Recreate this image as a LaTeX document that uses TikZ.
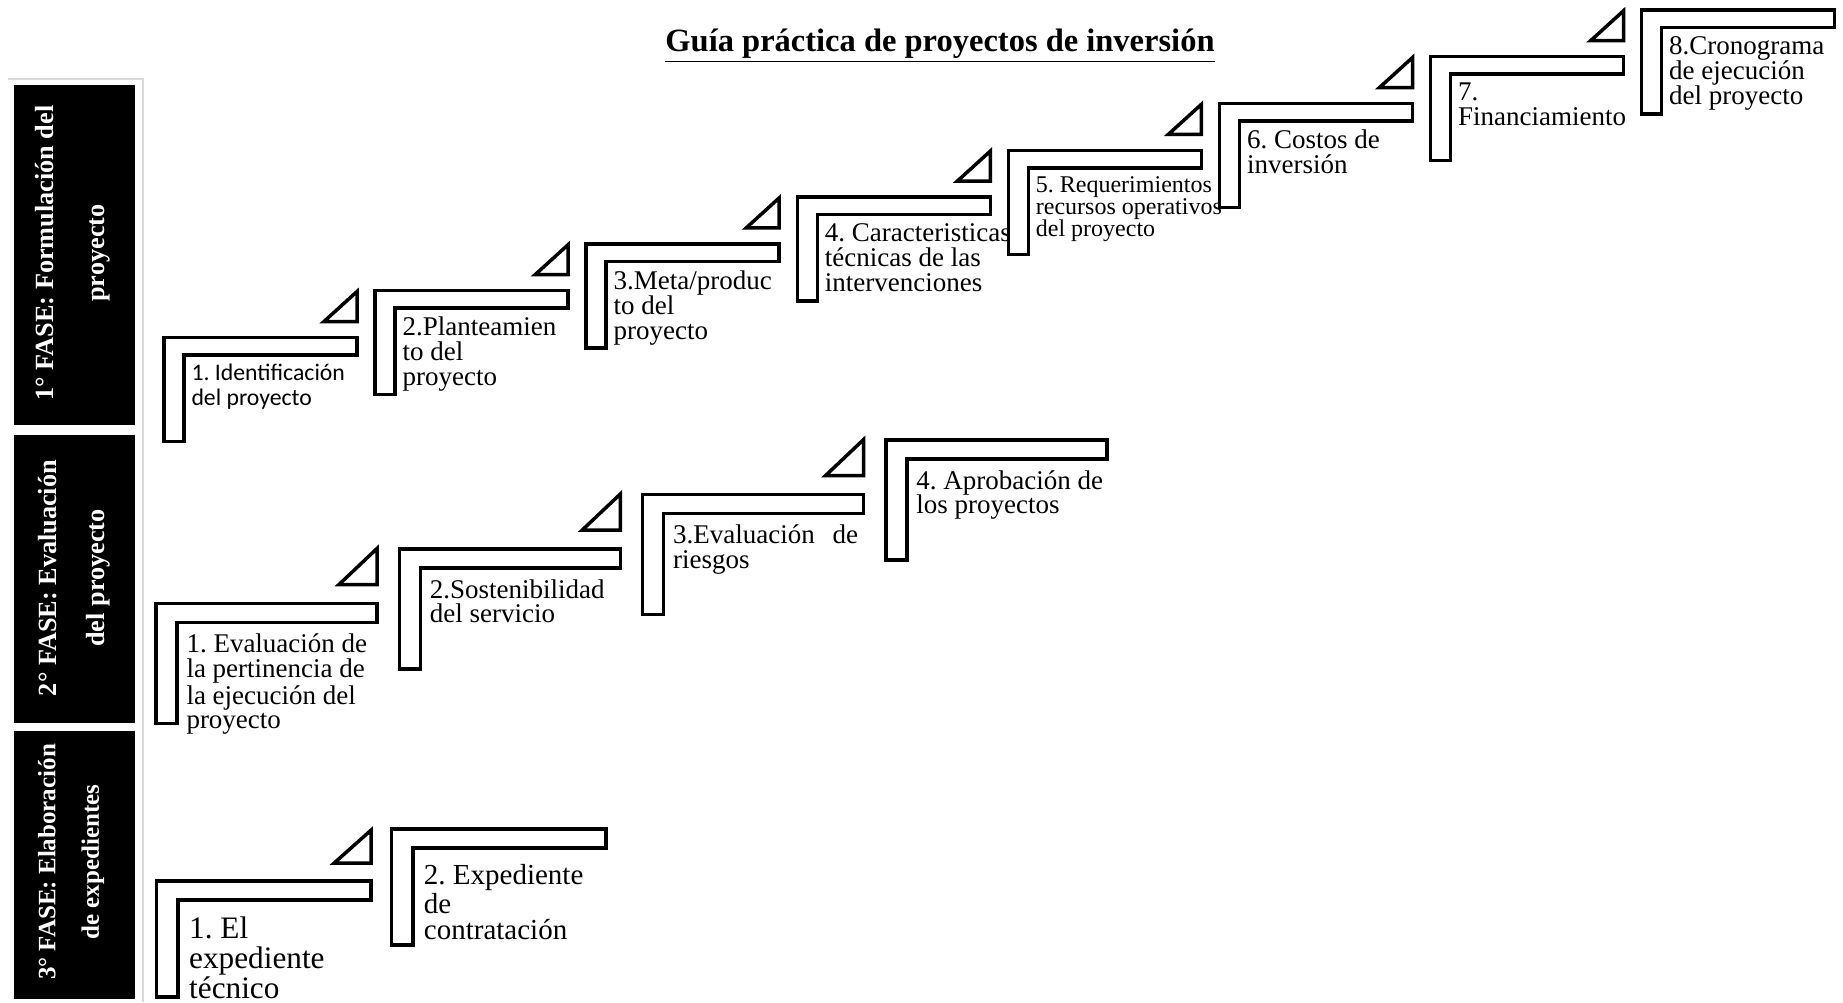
\documentclass[tikz,border=0pt]{standalone}
\usepackage{fontspec}
\setmainfont{Liberation Serif}
\newfontfamily\carlito{Carlito}
\frenchspacing

\begin{document}
\begin{tikzpicture}[x=0.4pt,y=-0.4pt,
  escalon/.style={draw=black,fill=white,line width=1.4pt,line join=miter},
  texto/.style={anchor=north west,inner sep=0pt,align=left,font=\fontsize{10.8}{10}\selectfont},
  fase/.style={rotate=90,text=white,inner sep=0pt,align=center}]
  \newcommand{\peldano}[6]{% izq, arriba, ancho, barra, poste, alto
    \filldraw[escalon] (#1,#2) -- ++(#3,0) -- ++(0,#4) -- ({#1+#5},{#2+#4}) -- ({#1+#5},{#2+#6}) -- (#1,{#2+#6}) -- cycle;}
  \newcommand{\rampa}[4]{% esquina x, esquina y, ancho, alto
    \filldraw[escalon] (#1,#2) -- ({#1-#3},#2) -- (#1,{#2-#4}) -- cycle;}
  \useasboundingbox (0,0) rectangle (1843,1002);
  \node[font=\bfseries\fontsize{13}{15}\selectfont] (titulo) at (940,46) {\underline{Guía práctica de proyectos de inversión}};
  \draw[gray!30,line width=0.8pt] (8,79) -- (143,79) -- (143,1002); %marco
  \fill[black] (14,85) rectangle (135,425); %fases
  \fill[black] (14,435) rectangle (135,723);
  \fill[black] (14,731) rectangle (135,999);
  \node[fase,font=\bfseries\fontsize{10.5}{20.4}\selectfont] (fase1) at (73,253) {1° FASE: Formulación del\\proyecto};
  \node[fase,font=\bfseries\fontsize{10.5}{19.2}\selectfont] (fase2) at (74,578) {2° FASE: Evaluación\\del proyecto};
  \node[fase,font=\bfseries\fontsize{10}{17.4}\selectfont] (fase3) at (71,862) {3° FASE: Elaboración\\de expedientes};
  \foreach \i in {0,...,7}{ %1a fase
    \pgfmathsetmacro{\px}{164+211.1*\i}
    \pgfmathsetmacro{\py}{337.5-46.8*\i}
    \peldano{\px}{\py}{193}{17.5}{20}{104}
    \coordinate (a\i) at ({\px+27},{\py+26});
    \ifnum\i<7 \rampa{\px+193}{\py-16}{33}{30}\fi
  }
  \foreach \i in {0,...,3}{ %2a fase
    \pgfmathsetmacro{\px}{156+243.3*\i}
    \pgfmathsetmacro{\py}{603.5-54.5*\i}
    \peldano{\px}{\py}{221}{19}{21}{120}
    \coordinate (b\i) at ({\px+30},{\py+30});
    \ifnum\i<3 \rampa{\px+221}{\py-19}{38}{36}\fi
  }
  \foreach \i in {0,1}{ %3a fase
    \pgfmathsetmacro{\px}{156.7+234.7*\i}
    \pgfmathsetmacro{\py}{881-52*\i}
    \peldano{\px}{\py}{214.5}{19}{21.5}{116}
    \coordinate (c\i) at ({\px+32},{\py+35});
    \ifnum\i<1 \rampa{\px+214.5}{\py-18}{37}{33}\fi
  }
  \node[texto,font=\carlito\fontsize{9.5}{9.8}\selectfont] (a1t) at (a0) {1. Identificación\\del proyecto};
  \node[texto] (a2t) at (a1) {2.Planteamien\\to del\\proyecto};
  \node[texto] (a3t) at (a2) {3.Meta/produc\\to del\\proyecto};
  \node[texto] (a4t) at (a3) {4. Caracteristicas\\técnicas de las\\intervenciones};
  \node[texto,font=\fontsize{9.6}{8.8}\selectfont] (a5t) at (a4) {5. Requerimientos\\recursos operativos\\del proyecto};
  \node[texto] (a6t) at (a5) {6. Costos de\\inversión};
  \node[texto] (a7t) at (a6) {7.\\Financiamiento};
  \node[texto] (a8t) at (a7) {8.Cronograma\\de ejecución\\del proyecto};
  \node[texto,font=\fontsize{10.8}{9.8}\selectfont] (b1t) at (b0) {1. Evaluación de\\la pertinencia de\\la ejecución del\\proyecto};
  \node[texto,font=\fontsize{10.8}{9.8}\selectfont] (b2t) at (b1) {2.Sostenibilidad\\del servicio};
  \node[texto,font=\fontsize{10.8}{9.8}\selectfont] (b3t) at (b2) {\makebox[74pt][s]{3.Evaluación de}\\riesgos};
  \node[texto,font=\fontsize{10.8}{9.8}\selectfont] (b4t) at (b3) {4. Aprobación de\\los proyectos};
  \node[texto,font=\fontsize{12.5}{12}\selectfont] (c1t) at (c0) {1. El\\expediente\\técnico};
  \node[texto,font=\fontsize{11.6}{10.3}\selectfont] (c2t) at (c1) {2. Expediente\\de\\contratación};
\end{tikzpicture}
\end{document}
